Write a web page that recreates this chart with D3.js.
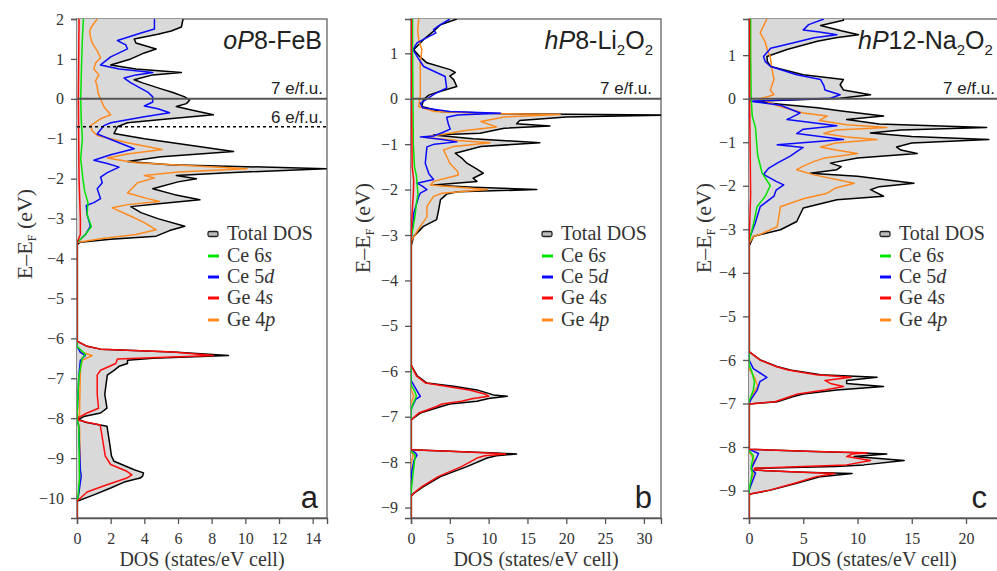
<!DOCTYPE html>
<html lang="en">
<head>
<meta charset="utf-8">
<title>DOS panels - D3</title>
<style>
  body { margin: 0; background: #fff; }
  svg { display: block; }
</style>
</head>
<body>
<div id="chart"></div>
<script src="https://cdn.jsdelivr.net/npm/d3@7"></script>
<script>
// ---- data: [E - EF (eV), DOS (states/eV cell)] ----

// panel a, oP8-FeB
var aTotal = [[2.0,6.3],[1.8,6.2],[1.7,5.6],[1.62,4.8],[1.5,3.4],[1.4,3.5],[1.25,4.7],[1.15,4.0],[1.0,3.2],[0.85,2.0],[0.75,3.5],[0.66,6.2],[0.6,4.5],[0.48,3.4],[0.4,3.9],[0.25,5.0],[0.16,5.7],[0.05,6.4],[-0.03,6.7],[-0.12,6.5],[-0.19,5.9],[-0.28,6.8],[-0.4,8.1],[-0.5,5.5],[-0.6,3.0],[-0.7,2.4],[-0.87,2.2],[-1.0,4.0],[-1.15,6.5],[-1.32,9.3],[-1.45,5.0],[-1.57,3.0],[-1.65,5.5],[-1.75,14.8],[-1.85,9.0],[-1.92,5.9],[-2.0,7.1],[-2.08,6.0],[-2.25,4.5],[-2.4,5.8],[-2.53,7.3],[-2.62,5.0],[-2.7,3.2],[-2.85,3.8],[-3.0,4.8],[-3.19,6.4],[-3.3,5.5],[-3.44,4.7],[-3.52,2.0],[-3.59,0.2],[-3.65,0],[-6.07,0],[-6.2,0.6],[-6.27,1.4],[-6.34,5.7],[-6.43,9.0],[-6.5,4.5],[-6.55,3.0],[-6.63,3.0],[-6.7,2.5],[-6.8,2.2],[-6.92,1.8],[-7.4,1.65],[-7.75,1.78],[-7.87,1.4],[-7.96,0.4],[-8.03,0.1],[-8.1,0.5],[-8.2,1.78],[-8.66,1.95],[-8.95,2.05],[-9.08,2.2],[-9.29,3.4],[-9.37,3.95],[-9.45,3.9],[-9.5,3.75],[-9.6,2.8],[-9.75,2.0],[-9.92,1.0],[-10.08,0],[-10.5,0]]
var aGe4p = [[2.0,1.2],[1.8,0.85],[1.7,0.75],[1.55,0.8],[1.4,0.9],[1.2,1.2],[1.03,1.4],[0.9,1.1],[0.75,1.0],[0.6,1.3],[0.45,1.1],[0.31,1.2],[0.15,1.25],[0.0,1.4],[-0.2,1.6],[-0.4,2.0],[-0.5,1.4],[-0.67,0.8],[-0.8,0.9],[-0.92,1.2],[-1.1,3.0],[-1.27,5.05],[-1.38,3.0],[-1.48,1.8],[-1.6,3.5],[-1.75,10.1],[-1.83,6.0],[-1.92,4.0],[-1.98,4.6],[-2.1,3.6],[-2.36,3.0],[-2.5,4.2],[-2.57,4.9],[-2.65,3.0],[-2.73,2.1],[-2.94,3.2],[-3.1,4.0],[-3.28,4.7],[-3.4,3.5],[-3.5,1.5],[-3.6,0],[-6.2,0],[-6.35,0.3],[-6.43,0.9],[-6.55,0.3],[-6.8,0.2],[-7.9,0.15],[-8.05,0],[-8.2,0.15],[-9.4,0.2],[-9.9,0.1],[-10.1,0],[-10.5,0]]
var aCe5d = [[2.0,4.6],[1.75,4.6],[1.65,3.8],[1.46,2.4],[1.35,2.9],[1.25,3.0],[1.05,2.0],[0.85,1.4],[0.75,2.5],[0.66,4.5],[0.6,3.5],[0.52,2.8],[0.4,3.2],[0.17,4.2],[0.05,4.5],[-0.08,4.5],[-0.18,4.0],[-0.25,4.8],[-0.35,5.5],[-0.45,4.0],[-0.6,2.0],[-0.67,1.6],[-0.88,1.2],[-1.05,2.2],[-1.25,3.4],[-1.4,2.0],[-1.54,1.0],[-1.62,1.8],[-1.71,2.5],[-1.85,1.8],[-1.96,1.4],[-2.1,1.5],[-2.25,1.2],[-2.5,1.4],[-2.6,1.0],[-2.67,0.55],[-2.9,0.6],[-3.19,0.8],[-3.4,0.5],[-3.6,0],[-6.2,0],[-6.35,0.2],[-6.43,0.5],[-6.55,0.2],[-7.0,0.1],[-8.0,0],[-8.2,0.1],[-9.3,0.2],[-9.45,0.25],[-9.9,0.1],[-10.1,0],[-10.5,0]]
var aCe6s = [[2.0,0.38],[1.5,0.32],[1.0,0.28],[0.5,0.25],[0.0,0.22],[-0.5,0.25],[-1.0,0.32],[-1.5,0.22],[-2.0,0.35],[-2.3,0.45],[-2.6,0.65],[-2.9,0.6],[-3.2,0.85],[-3.4,0.5],[-3.6,0],[-6.2,0],[-6.4,0.5],[-6.5,0.3],[-7.0,0.1],[-8.0,0],[-8.2,0.1],[-9.5,0.15],[-10.0,0.05],[-10.1,0],[-10.5,0]]
var aGe4s = [[2.0,0.12],[1.0,0.1],[0.0,0.08],[-1.0,0.1],[-2.0,0.12],[-3.0,0.2],[-3.4,0.2],[-3.6,0],[-6.07,0],[-6.2,0.6],[-6.27,1.4],[-6.34,5.7],[-6.43,8.1],[-6.52,2.4],[-6.63,2.3],[-6.8,1.4],[-6.92,1.2],[-7.4,1.2],[-7.75,1.28],[-7.87,0.6],[-7.98,0.1],[-8.05,0.1],[-8.1,0.6],[-8.17,1.38],[-8.66,1.57],[-8.95,1.68],[-9.16,2.0],[-9.33,2.96],[-9.42,3.26],[-9.5,2.96],[-9.7,1.57],[-9.85,0.6],[-10.08,0],[-10.5,0]]

// panel b, hP8-Li2O2
var bTotal = [[1.755,5.9],[1.63,3.8],[1.5,3.0],[1.3,1.6],[1.08,0.35],[0.95,1.0],[0.79,2.05],[0.64,5.05],[0.58,5.7],[0.5,5.0],[0.42,5.5],[0.27,5.9],[0.15,3.5],[0.08,2.3],[-0.02,1.6],[-0.17,1.4],[-0.28,3.8],[-0.33,12],[-0.36,34],[-0.4,20],[-0.48,14],[-0.55,13.6],[-0.6,17.9],[-0.65,12],[-0.76,8.9],[-0.8,2.9],[-0.88,8],[-0.97,16.6],[-1.05,9],[-1.2,5.7],[-1.3,6.5],[-1.42,7.2],[-1.55,8.5],[-1.64,9.3],[-1.75,8.0],[-1.82,8.5],[-1.9,2.9],[-1.95,8],[-2.0,16.2],[-2.05,6],[-2.1,4.6],[-2.22,3.8],[-2.5,3.5],[-2.66,3.3],[-2.81,1.6],[-3.03,0.35],[-3.25,0],[-5.86,0],[-6.1,0.8],[-6.26,2.05],[-6.33,5.5],[-6.41,8.5],[-6.52,10.6],[-6.55,12.4],[-6.6,10],[-6.66,8.5],[-6.72,5],[-6.78,3.8],[-6.92,1.2],[-7.07,0],[-7.73,0],[-7.76,5],[-7.8,11],[-7.82,13.6],[-7.86,11],[-7.91,9.8],[-8.1,7.2],[-8.32,3.8],[-8.54,1.6],[-8.69,0.35],[-8.75,0],[-9.23,0]]
var bGe4p = [[1.755,1.0],[1.5,0.86],[1.3,1.0],[1.08,1.4],[0.8,1.2],[0.5,1.2],[0.08,1.2],[-0.17,1.0],[-0.28,3.0],[-0.33,12],[-0.35,19.2],[-0.4,12],[-0.5,9],[-0.62,11],[-0.7,7],[-0.76,5],[-0.85,1.6],[-0.92,6],[-0.97,10.2],[-1.05,5.5],[-1.13,4.2],[-1.42,5.0],[-1.6,6.0],[-1.68,6.1],[-1.82,2.9],[-1.9,2.5],[-2.0,9.8],[-2.08,4],[-2.15,2.9],[-2.37,2.05],[-2.6,2.05],[-2.81,1.2],[-3.1,0.13],[-3.2,0],[-6.4,0],[-6.55,0.35],[-6.7,0],[-7.75,0],[-7.85,0.3],[-8.0,0],[-9.23,0]]
var bCe5d = [[1.755,5.0],[1.6,3.5],[1.52,2.9],[1.45,3.2],[1.23,0.77],[1.08,0.26],[0.9,0.9],[0.71,1.63],[0.49,4.4],[0.35,4.5],[0.24,4.6],[0.1,3.0],[-0.1,1.2],[-0.2,1.5],[-0.28,5],[-0.32,11.5],[-0.36,6],[-0.41,4.6],[-0.55,4.8],[-0.67,5.05],[-0.75,4],[-0.82,2.9],[-0.84,1.2],[-0.9,4],[-0.95,5.9],[-1.0,3],[-1.06,2.05],[-1.42,1.84],[-1.65,2.3],[-1.78,2.9],[-1.86,0.77],[-1.93,1.5],[-2.0,2.05],[-2.08,1.2],[-2.15,1.0],[-2.52,0.35],[-2.96,0.13],[-3.1,0],[-6.2,0],[-6.35,0.5],[-6.5,1.0],[-6.55,1.2],[-6.62,0.6],[-6.8,0.1],[-6.9,0],[-7.73,0],[-7.8,0.6],[-7.85,0.77],[-7.95,0.4],[-8.2,0.1],[-8.4,0],[-9.23,0]]
var bCe6s = [[1.755,0.2],[1.0,0.2],[0.0,0.25],[-1.0,0.3],[-1.5,0.45],[-1.7,0.7],[-1.9,0.8],[-2.1,0.9],[-2.3,0.7],[-2.6,0.5],[-3.0,0.1],[-3.1,0],[-6.3,0],[-6.45,0.5],[-6.55,0.7],[-6.7,0.3],[-6.85,0],[-7.75,0],[-7.85,0.55],[-8.2,0.3],[-8.6,0.05],[-8.7,0],[-9.23,0]]
var bGe4s = [[1.755,0.05],[0.0,0.05],[-1.5,0.15],[-1.8,0.35],[-2.1,0.3],[-2.5,0.15],[-3.1,0],[-5.86,0],[-6.1,0.7],[-6.26,1.9],[-6.33,4.5],[-6.41,7.5],[-6.5,9.5],[-6.55,10.0],[-6.6,8],[-6.66,6.5],[-6.72,4],[-6.78,3.2],[-6.92,1.0],[-7.07,0],[-7.73,0],[-7.76,5],[-7.8,10],[-7.82,12.2],[-7.86,9.5],[-7.91,8.5],[-8.1,6.5],[-8.32,3.5],[-8.54,1.4],[-8.69,0.3],[-8.75,0],[-9.23,0]]

// panel c, hP12-Na2O2
var cTotal = [[1.83,8.7],[1.8,8.7],[1.68,6.6],[1.56,8.5],[1.47,10.1],[1.4,8],[1.32,6.3],[1.13,3.5],[0.97,1.65],[0.85,1.7],[0.74,2.0],[0.55,5.0],[0.44,8.7],[0.32,8.4],[0.2,8.7],[0.09,11.2],[0.01,8.4],[-0.06,0.43],[-0.13,2.9],[-0.21,6.3],[-0.29,8.7],[-0.4,12.4],[-0.48,9],[-0.58,12],[-0.66,21.9],[-0.72,14],[-0.79,11.2],[-0.87,15],[-0.94,22.1],[-1.02,15],[-1.11,13.6],[-1.18,14],[-1.26,15.5],[-1.36,10],[-1.48,7.5],[-1.56,8.5],[-1.63,8.1],[-1.71,5.65],[-1.78,10],[-1.94,15.2],[-2.02,12],[-2.09,11.2],[-2.24,12.4],[-2.32,8.1],[-2.51,5.0],[-2.82,4.4],[-3.01,2.9],[-3.16,0.43],[-3.39,0],[-5.81,0],[-6.0,1.04],[-6.15,2.57],[-6.23,3.8],[-6.34,6.6],[-6.4,11.8],[-6.47,9],[-6.54,9.0],[-6.61,12.4],[-6.69,8.1],[-6.78,5],[-6.84,4.1],[-6.96,2.6],[-7.01,0],[-8.05,0],[-8.1,6],[-8.13,10],[-8.16,12.7],[-8.22,9.7],[-8.31,14.3],[-8.41,10.6],[-8.45,8],[-8.49,0.6],[-8.53,0.6],[-8.58,5],[-8.61,9.5],[-8.68,6.6],[-8.83,4.4],[-8.99,2.0],[-9.08,0.1],[-9.1,0],[-9.63,0]]
var cGe4p = [[1.83,1.65],[1.6,1.2],[1.51,1.03],[1.3,1.5],[1.1,1.7],[0.97,1.96],[0.7,2.1],[0.44,2.3],[0.2,1.96],[0.09,2.3],[0.0,1.03],[-0.15,2.5],[-0.33,5.0],[-0.4,7.2],[-0.5,6.5],[-0.6,9],[-0.66,12.7],[-0.72,8],[-0.8,6.9],[-0.88,9],[-0.94,11.8],[-1.02,8],[-1.11,6.6],[-1.18,8],[-1.26,10],[-1.36,7],[-1.44,6.0],[-1.55,5],[-1.63,4.4],[-1.75,6],[-1.94,9.7],[-2.05,8],[-2.17,7.2],[-2.3,5],[-2.48,2.9],[-2.94,2.6],[-3.1,1.2],[-3.16,0.43],[-3.32,0],[-6.2,0],[-6.4,0.5],[-6.6,0.8],[-6.8,0.3],[-7.0,0],[-8.1,0],[-8.3,0.5],[-8.5,0.2],[-8.6,0.4],[-8.9,0.1],[-9.0,0],[-9.63,0]]
var cCe5d = [[1.83,6.9],[1.7,5.5],[1.58,5.0],[1.53,6.5],[1.47,8.1],[1.4,6],[1.3,4.4],[1.16,2.0],[0.97,1.34],[0.85,1.5],[0.74,2.0],[0.55,4.4],[0.44,6.6],[0.3,6.9],[0.2,7.0],[0.09,8.4],[0.01,7.5],[-0.06,0.13],[-0.15,2.9],[-0.33,4.7],[-0.48,3.5],[-0.62,8.1],[-0.7,5],[-0.8,4.4],[-0.94,8.7],[-1.06,2.6],[-1.12,5.0],[-1.2,4.5],[-1.32,3.8],[-1.48,2.6],[-1.6,1.8],[-1.74,1.34],[-1.9,2.5],[-1.98,3.2],[-2.1,2.5],[-2.24,2.3],[-2.48,1.03],[-2.86,0.57],[-3.24,0],[-6.0,0],[-6.2,0.4],[-6.4,1.65],[-6.5,1.0],[-6.7,0.74],[-6.9,0.2],[-7.0,0],[-8.05,0],[-8.15,0.88],[-8.3,0.6],[-8.5,0.2],[-8.6,0.6],[-8.8,0.3],[-9.0,0],[-9.63,0]]
var cCe6s = [[1.83,0.15],[1.0,0.15],[0.0,0.2],[-0.4,0.3],[-0.67,0.6],[-1.0,0.7],[-1.3,0.8],[-1.7,1.2],[-2.0,1.96],[-2.24,1.5],[-2.48,0.74],[-2.86,0.43],[-3.3,0],[-6.1,0],[-6.3,0.3],[-6.5,0.5],[-6.7,0.4],[-6.95,0],[-8.08,0],[-8.2,0.4],[-8.45,0.2],[-8.6,0.3],[-9.0,0],[-9.63,0]]
var cGe4s = [[1.83,0.05],[0,0.05],[-1.5,0.12],[-2.2,0.15],[-3.0,0.05],[-3.3,0],[-5.81,0],[-6.0,1.0],[-6.15,2.5],[-6.23,3.6],[-6.34,6.2],[-6.4,9.4],[-6.47,7.0],[-6.54,7.5],[-6.61,8.7],[-6.69,7.0],[-6.78,4.5],[-6.84,3.8],[-6.96,2.4],[-7.01,0],[-8.05,0],[-8.1,6],[-8.13,10.9],[-8.16,9.5],[-8.22,9],[-8.31,11.2],[-8.41,9],[-8.45,5],[-8.49,0.5],[-8.53,0.5],[-8.58,5],[-8.61,7.9],[-8.68,6.2],[-8.83,4.2],[-8.99,1.9],[-9.08,0.1],[-9.1,0],[-9.63,0]]

// tick values
var aXTicks = [0, 2, 4, 6, 8, 10, 12, 14]
var aYTicks = [-10, -9, -8, -7, -6, -5, -4, -3, -2, -1, 0, 1, 2]
var bXTicks = [0, 5, 10, 15, 20, 25, 30]
var bYTicks = [-9, -8, -7, -6, -5, -4, -3, -2, -1, 0, 1]
var cXTicks = [0, 5, 10, 15, 20]
var cYTicks = [-9, -8, -7, -6, -5, -4, -3, -2, -1, 0, 1]

// legend labels: [plain part, italic part]
var legendLabels = [["Total DOS", ""], ["Ce 6", "s"], ["Ce 5", "d"], ["Ge 4", "s"], ["Ge 4", "p"]]

var colors = ["#000000", "#00e400", "#0a0aff", "#ff0a0a", "#ff8a1e"]

// layout of the three panels
var panels = [
  {id: "a", left: 77, right: 327, top: 19, bottom: 518, xMax: 14.85, yMin: -10.5, yMax: 2,
   xTicks: aXTicks, yTicks: aYTicks, curves: [aTotal, aCe6s, aCe5d, aGe4s, aGe4p],
   title: [["o", 1], ["P", 1], ["8-FeB", 0]], titleX: 322, titleAnchor: "end",
   legendX: 208, labelX: 25, labelY: 234, fermiX: 323, sixLine: -0.7},
  {id: "b", left: 411, right: 661, top: 19, bottom: 518, xMax: 32.2, yMin: -9.23, yMax: 1.755,
   xTicks: bXTicks, yTicks: bYTicks, curves: [bTotal, bCe6s, bCe5d, bGe4s, bGe4p],
   title: [["h", 1], ["P", 1], ["8-Li", 0], ["2", 2], ["O", 0], ["2", 2]], titleX: 653, titleAnchor: "end",
   legendX: 542, labelX: 363, labelY: 228, fermiX: 652},
  {id: "c", left: 749, right: 999, top: 19, bottom: 518, xMax: 23.04, yMin: -9.63, yMax: 1.83,
   xTicks: cXTicks, yTicks: cYTicks, curves: [cTotal, cCe6s, cCe5d, cGe4s, cGe4p],
   title: [["h", 1], ["P", 1], ["12-Na", 0], ["2", 2], ["O", 0], ["2", 2]], titleX: 858, titleAnchor: "start",
   legendX: 880, labelX: 704, labelY: 228, fermiX: 995}
]

var serif = "Liberation Serif, Times New Roman, serif"
var sans = "Liberation Sans, Arial, sans-serif"

var svg = d3.select("#chart")
  .append("svg")
    .attr("width", 997)
    .attr("height", 571)

panels.forEach(function (p) {
  var x = d3.scaleLinear().domain([0, p.xMax]).range([p.left, p.right])
  var y = d3.scaleLinear().domain([p.yMin, p.yMax]).range([p.bottom, p.top])

  var g = svg.append("g")

  g.append("clipPath").attr("id", "clip-" + p.id)
    .append("rect")
      .attr("x", p.left).attr("y", p.top)
      .attr("width", p.right - p.left).attr("height", p.bottom - p.top)

  // frame
  g.append("rect")
    .attr("x", p.left).attr("y", p.top)
    .attr("width", p.right - p.left).attr("height", p.bottom - p.top)
    .attr("fill", "#fff")
    .attr("stroke", "#6e6e6e")
    .attr("stroke-width", 1.4)

  // axes
  var xAxis = g.append("g")
    .attr("transform", "translate(0," + p.bottom + ")")
    .call(d3.axisBottom(x).tickValues(p.xTicks).tickSize(6).tickPadding(9))
  var yAxis = g.append("g")
    .attr("transform", "translate(" + p.left + ",0)")
    .call(d3.axisLeft(y).tickValues(p.yTicks).tickSize(6).tickPadding(7))
  ;[xAxis, yAxis].forEach(function (a) {
    a.attr("font-family", serif).attr("font-size", 16)
    a.select(".domain").attr("stroke", "#555").attr("stroke-width", 1.4)
    a.selectAll(".tick line").attr("stroke", "#555").attr("stroke-width", 1.3)
    a.selectAll(".tick text").attr("fill", "#333")
  })

  var plot = g.append("g").attr("clip-path", "url(#clip-" + p.id + ")")

  // grey total DOS area
  var area = d3.area()
    .x0(x(0))
    .x1(function (d) { return x(d[1]) })
    .y(function (d) { return y(d[0]) })
  plot.append("path")
    .attr("d", area(p.curves[0]))
    .attr("fill", "#d9d9d9")

  var line = d3.line()
    .x(function (d) { return x(d[1]) })
    .y(function (d) { return y(d[0]) })

  // order: total, Ge 4p, Ce 5d, Ce 6s, Ge 4s
  ;[0, 4, 2, 1, 3].forEach(function (i) {
    plot.append("path")
      .attr("d", line(p.curves[i]))
      .attr("fill", "none")
      .attr("stroke", colors[i])
      .attr("stroke-width", 1.5)
      .attr("stroke-linejoin", "round")
  })

  // Fermi level
  g.append("line")
    .attr("x1", p.left).attr("x2", Math.min(p.right, 997))
    .attr("y1", y(0)).attr("y2", y(0))
    .attr("stroke", "#555").attr("stroke-width", 2)
  g.append("text")
    .attr("x", p.fermiX).attr("y", y(0) - 5)
    .attr("text-anchor", "end")
    .attr("font-family", sans).attr("font-size", 17).attr("fill", "#222")
    .text("7 e/f.u.")

  if (p.sixLine !== undefined) {
    g.append("line")
      .attr("x1", p.left).attr("x2", p.right)
      .attr("y1", y(p.sixLine)).attr("y2", y(p.sixLine))
      .attr("stroke", "#000").attr("stroke-width", 1.5)
      .attr("stroke-dasharray", "3,3")
    g.append("text")
      .attr("x", p.fermiX).attr("y", y(p.sixLine) - 4)
      .attr("text-anchor", "end")
      .attr("font-family", sans).attr("font-size", 17).attr("fill", "#222")
      .text("6 e/f.u.")
  }

  // structure title
  var t = g.append("text")
    .attr("x", p.titleX).attr("y", 49)
    .attr("text-anchor", p.titleAnchor)
    .attr("font-family", sans).attr("font-size", 25).attr("fill", "#222")
  var shifted = false
  p.title.forEach(function (part) {
    var s = t.append("tspan").text(part[0])
    if (part[1] === 1) s.attr("font-style", "italic")
    if (part[1] === 2) {
      s.attr("font-size", 15).attr("dy", 6)
      shifted = true
    } else if (shifted) {
      s.attr("dy", -6)
      shifted = false
    }
  })

  // panel letter
  g.append("text")
    .attr("x", p.right > 997 ? 987 : p.right - 9).attr("y", 508)
    .attr("text-anchor", "end")
    .attr("font-family", sans).attr("font-size", 31).attr("fill", "#222")
    .text(p.id)

  // legend
  var rowY = [234, 256, 277, 298, 320]
  legendLabels.forEach(function (lab, i) {
    if (i === 0) {
      g.append("rect")
        .attr("x", p.legendX).attr("y", rowY[i] - 2.5)
        .attr("width", 10).attr("height", 5).attr("rx", 1.5)
        .attr("fill", "#bdbdbd").attr("stroke", "#222").attr("stroke-width", 1.3)
    } else {
      g.append("line")
        .attr("x1", p.legendX).attr("x2", p.legendX + 11)
        .attr("y1", rowY[i]).attr("y2", rowY[i])
        .attr("stroke", colors[i]).attr("stroke-width", 3)
    }
    var lt = g.append("text")
      .attr("x", p.legendX + 19).attr("y", rowY[i] + 6)
      .attr("font-family", serif).attr("font-size", 20).attr("fill", "#333")
    lt.append("tspan").text(lab[0])
    if (lab[1]) lt.append("tspan").attr("font-style", "italic").text(lab[1])
  })

  // axis titles
  g.append("text")
    .attr("x", (p.left + p.right) / 2).attr("y", 566)
    .attr("text-anchor", "middle")
    .attr("font-family", serif).attr("font-size", 20).attr("fill", "#333")
    .text("DOS (states/eV cell)")

  var yl = g.append("text")
    .attr("transform", "translate(" + (p.labelX + 7) + "," + p.labelY + ") rotate(-90)")
    .attr("text-anchor", "middle")
    .attr("font-family", serif).attr("font-size", 22).attr("fill", "#333")
  yl.append("tspan").text("E\u2013E")
  yl.append("tspan").text("F").attr("font-size", 12).attr("dy", 4)
  yl.append("tspan").text(" (eV)").attr("dy", -4)
})
</script>
</body>
</html>
